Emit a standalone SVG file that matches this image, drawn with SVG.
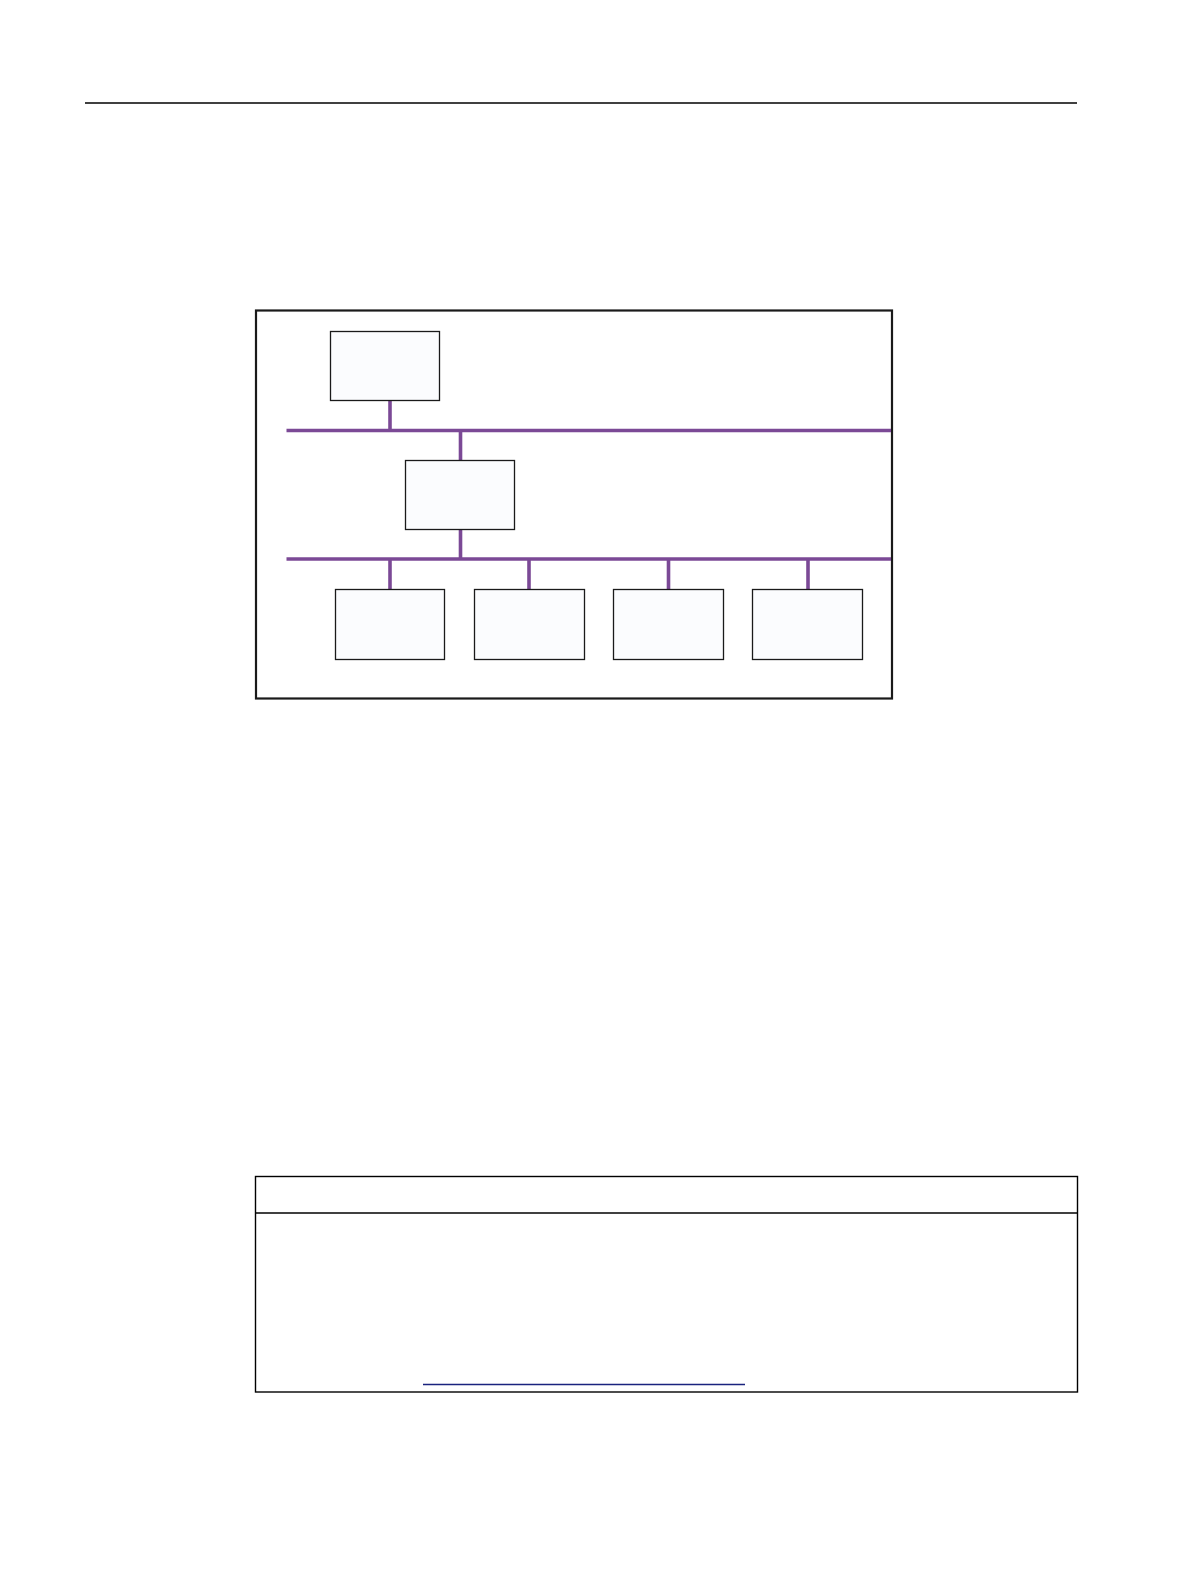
<svg xmlns="http://www.w3.org/2000/svg" width="1191" height="1587" viewBox="0 0 1191 1587">
<style>
.node{fill:#fbfcfe;stroke:#1a1a1a;stroke-width:1.3}
.bus{stroke:#7b4996;stroke-width:3.6;fill:none}
.rule{stroke:#000;stroke-width:1.4;fill:none}
</style>
<rect width="1191" height="1587" fill="#fff"/>
<line class="rule" x1="85" y1="103" x2="1077" y2="103"/>
<rect id="frame" x="256" y="310.5" width="636" height="388" fill="#fff" stroke="#1a1a1a" stroke-width="2.2"/>
<g id="connectors">
<line class="bus" x1="286.5" y1="430.5" x2="891" y2="430.5"/>
<line class="bus" x1="286.5" y1="559" x2="891" y2="559"/>
<line class="bus" x1="390" y1="400" x2="390" y2="430.5"/>
<line class="bus" x1="460.5" y1="430.5" x2="460.5" y2="460.5"/>
<line class="bus" x1="460.5" y1="529.5" x2="460.5" y2="559"/>
<line class="bus" x1="390" y1="559" x2="390" y2="589"/>
<line class="bus" x1="529" y1="559" x2="529" y2="589"/>
<line class="bus" x1="668.5" y1="559" x2="668.5" y2="589"/>
<line class="bus" x1="808" y1="559" x2="808" y2="589"/>
</g>
<g id="n1"><rect class="node" x="330.5" y="331.5" width="109" height="69"/></g>
<g id="n2"><rect class="node" x="405.5" y="460.5" width="109" height="69"/></g>
<g id="n3"><rect class="node" x="335.5" y="589.5" width="109" height="70"/></g>
<g id="n4"><rect class="node" x="474.5" y="589.5" width="110" height="70"/></g>
<g id="n5"><rect class="node" x="613.5" y="589.5" width="110" height="70"/></g>
<g id="n6"><rect class="node" x="752.5" y="589.5" width="110" height="70"/></g>
<g id="table">
<rect x="255.5" y="1176.5" width="822" height="215.5" fill="none" stroke="#000" stroke-width="1.4"/>
<line class="rule" x1="255.5" y1="1213" x2="1077.5" y2="1213"/>
<line x1="423" y1="1384.5" x2="745" y2="1384.5" stroke="#1a237e" stroke-width="1.4"/>
</g>
</svg>
